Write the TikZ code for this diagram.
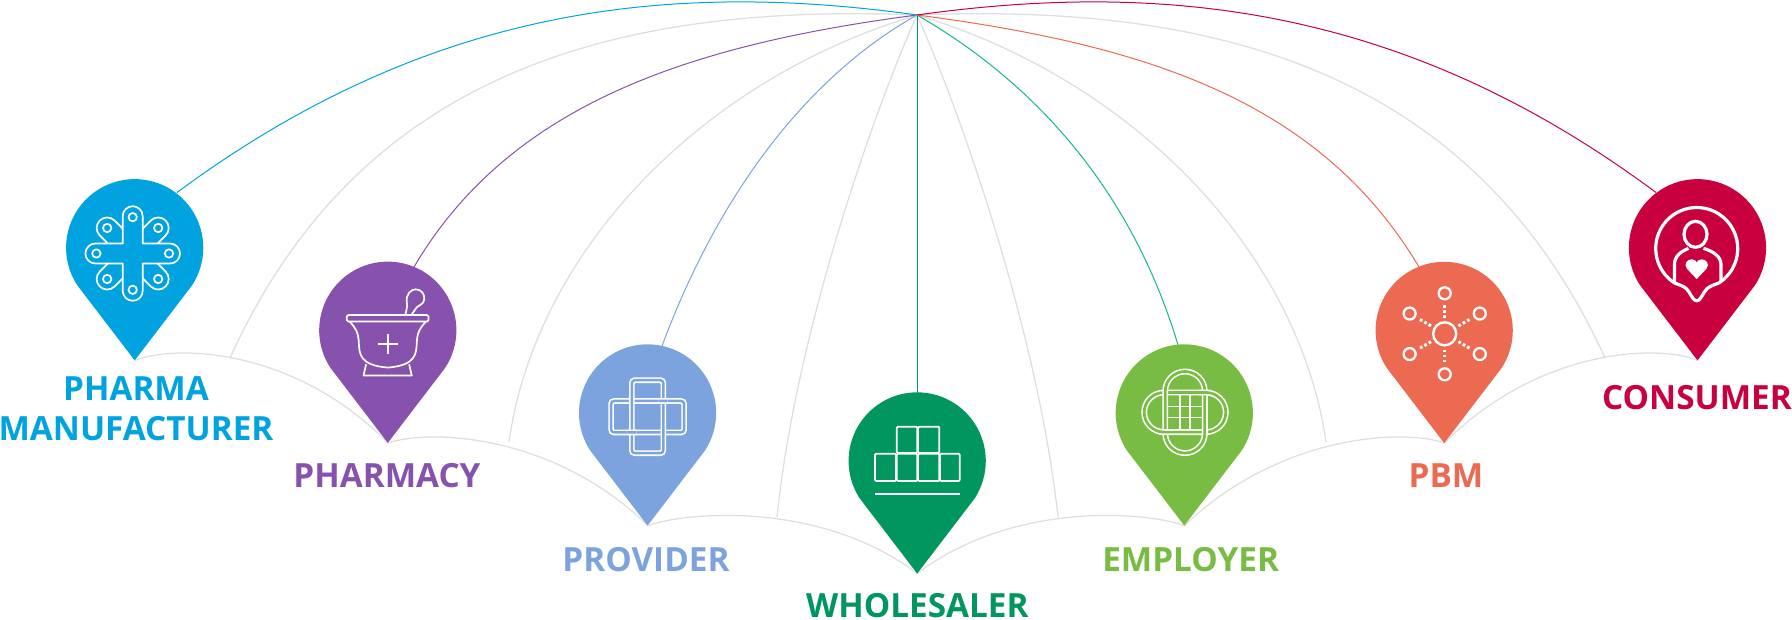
\documentclass[tikz,border=0pt]{standalone}
\usepackage{fontspec}
\setmainfont{Open Sans}
\definecolor{cPharma}{HTML}{00A3E0}
\definecolor{cPharmacy}{HTML}{8652AE}
\definecolor{cProvider}{HTML}{7CA3DD}
\definecolor{cWhole}{HTML}{00965E}
\definecolor{cEmployer}{HTML}{78BC43}
\definecolor{cPbm}{HTML}{EC6952}
\definecolor{cConsumer}{HTML}{C8003D}
\definecolor{cTeal}{HTML}{14B884}
\definecolor{cGrey}{HTML}{DFDFDF}
\tikzset{
  grey link/.style={draw=cGrey,line width=1.3pt},
  colour link/.style={line width=1pt},
  icon line/.style={draw=white,line width=1.7pt,line join=round},
  pinlabel/.style={inner sep=0pt,anchor=base,font=\fontsize{33.3}{33.3}\selectfont\bfseries},
  pinshape/.pic={
    \fill (0,112.6) -- (-57.4,37.5)
      arc[start angle=146.8,end angle=393.2,radius=68.6]
      -- cycle;
  },
  icon pharma/.pic={
    \begin{scope}[shift={(-2,5.7)}]
      \begin{scope}[rotate=45]
        \draw[icon line,rounded corners=10.5pt] (-46.6,-10.5) rectangle (46.6,10.5);
      \end{scope}
      \begin{scope}[rotate=-45]
        \draw[icon line,rounded corners=10.5pt] (-46.6,-10.5) rectangle (46.6,10.5);
      \end{scope}
      \draw[icon line,fill=cPharma] (-10,-37.3) arc[start angle=180,end angle=360,radius=10]
        -- (10,-10) -- (37.3,-10) arc[start angle=270,end angle=450,radius=10]
        -- (10,10) -- (10,37.3) arc[start angle=0,end angle=180,radius=10]
        -- (-10,10) -- (-37.3,10) arc[start angle=90,end angle=270,radius=10]
        -- (-10,-10) -- cycle;
      \foreach \p in {(0,-36.3),(0,36.3),(-36.3,0),(36.3,0),(-25.5,-25.5),(25.5,-25.5),(-25.5,25.5),(25.5,25.5)}
        \draw[icon line] \p circle[radius=4.2];
    \end{scope}
  },
  icon pharmacy/.pic={
    \draw[icon line,rounded corners=1.5pt] (-41,-15.3) rectangle (40.7,-8.7);
    \draw[icon line] (-38,-8.7) .. controls (-33,-3) and (-29.5,1) .. (-29,12)
      .. controls (-28.5,24) and (-28,35) .. (0,37.3)
      .. controls (28,35) and (28.5,24) .. (29,12)
      .. controls (29.5,1) and (33,-3) .. (38,-8.7);
    \draw[icon line] (-21.7,34) -- (-24.3,45.3) -- (24,45.3) -- (21.3,34);
    \draw[icon line] (-10,14) -- (10,14) (0,4) -- (0,24);
    \draw[icon line] (17.5,-15.3) .. controls (18.5,-20) and (20,-24) .. (19,-28)
      .. controls (18,-36) and (23,-41) .. (28,-41)
      .. controls (33.5,-41) and (37,-36) .. (36.5,-31)
      .. controls (36,-26) and (31,-25) .. (29,-23)
      .. controls (27,-21) and (26,-18) .. (23.5,-15.3);
  },
  icon provider/.pic={
    \begin{scope}[shift={(0,3.7)}]
      \tikzset{band/.style={white,line width=1.6pt,double=cProvider,double distance=2.5pt,rounded corners=3pt}}
      \draw[band] (-36.5,-15.75) rectangle (36.5,15.75);
      \draw[band] (-15.75,-36.5) rectangle (15.75,36.5);
      \begin{scope}
        \clip (11,-20) rectangle (20,-11) (-20,11) rectangle (-11,20);
        \draw[band] (-36.5,-15.75) rectangle (36.5,15.75);
      \end{scope}
    \end{scope}
  },
  icon whole/.pic={
    \foreach \a/\b/\c/\d in {-20.4/-34.3/0.1/-8.1, 0.9/-34.3/22.1/-8.1,
        -42.2/-7.3/-21.2/20, -20.4/-7.3/0.1/20, 0.9/-7.3/22.1/20, 22.9/-7.3/42.5/20}
      \draw[icon line,rounded corners=1pt] (\a,\b) rectangle (\c,\d);
    \draw[icon line] (-42.2,32.7) -- (42.5,32.7);
  },
  icon employer/.pic={
    \begin{scope}[shift={(0.7,-0.7)}]
      \tikzset{band/.style={white,line width=1.6pt,double=cEmployer,double distance=2.7pt,rounded corners=19.8pt}}
      \draw[white,line width=1.3pt] (-5,-17) -- (-5,17) (5,-17) -- (5,17) (-17,-5.5) -- (17,-5.5) (-17,5.5) -- (17,5.5);
      \draw[band] (-40.8,-19.8) rectangle (40.8,19.8);
      \draw[band] (-19.8,-40.8) rectangle (19.8,40.8);
      \begin{scope}
        \clip (14,-25) rectangle (26,-14) (-26,14) rectangle (-14,25);
        \draw[band] (-40.8,-19.8) rectangle (40.8,19.8);
      \end{scope}
    \end{scope}
  },
  icon pbm/.pic={
    \begin{scope}[shift={(0.5,3.3)}]
      \draw[white,line width=2.4pt] (0,0) circle[radius=11.5];
      \foreach \t in {30,90,150,210,270,330}{
        \draw[white,line width=2.3pt] (\t:40.5) circle[radius=6];
        \draw[white,line width=3pt,dash pattern=on 2.8pt off 2.2pt] (\t:15.8) -- (\t:29.5);
      }
    \end{scope}
  },
  icon consumer/.pic={
    \tikzset{thick icon/.style={draw=white,line width=3.2pt,line join=round}}
    \draw[thick icon] (-23.1,35.1) arc[start angle=123,end angle=417,radius=41]
      .. controls (14,38) and (10,39) .. (7,44)
      .. controls (4,49) and (2,53) .. (-0.8,53)
      .. controls (-3.6,53) and (-5.6,49) .. (-8.6,44)
      .. controls (-11.6,39) and (-15.6,38) .. (-23.1,35.1) -- cycle;
    \draw[thick icon] (-23.1,34) -- (-23.1,17) .. controls (-23.1,8) and (-16,3.5) .. (-9,0.5);
    \draw[thick icon] (23.5,34) -- (23.5,17) .. controls (23.5,8) and (15,3.5) .. (6,0.5);
    \draw[thick icon] (-2,-13.5) ellipse[x radius=11.5,y radius=13];
    \fill[white] (-0.8,31.3) -- (-10.5,21) .. controls (-14.5,16.5) and (-10,11) .. (-5.5,11.5)
      .. controls (-3,11.7) and (-1.5,13) .. (-0.8,14.5)
      .. controls (-0.1,13) and (1.4,11.7) .. (3.9,11.5)
      .. controls (8.4,11) and (12.9,16.5) .. (8.9,21) -- cycle;
  }
}
\begin{document}
\begin{tikzpicture}[x=1pt,y=-1pt]
\useasboundingbox (0,0) rectangle (1792,620);
% anchors
\coordinate (apex) at (917,15);
\coordinate (pinA) at (134.7,247.8);
\coordinate (pinB) at (387.8,330.3);
\coordinate (pinC) at (647.6,413);
\coordinate (pinD) at (917.2,461);
\coordinate (pinE) at (1184.3,413);
\coordinate (pinF) at (1444.2,330.5);
\coordinate (pinG) at (1697.5,247.8);
\coordinate (tipA) at (135,360.5);
\coordinate (tipB) at (388,443);
\coordinate (tipC) at (648,525.7);
\coordinate (tipD) at (917.2,573.5);
\coordinate (tipE) at (1184.3,525.7);
\coordinate (tipF) at (1444.3,443);
\coordinate (tipG) at (1697.5,360.5);
\coordinate (endA) at (177,192.5);
\coordinate (endB) at (414,267);
\coordinate (endC) at (662,346);
\coordinate (endD) at (917,393);
\coordinate (endE) at (1178,345);
\coordinate (endF) at (1419,267);
\coordinate (endG) at (1656,192.5);
\coordinate (arcAB) at (230,358);
\coordinate (arcBC) at (509,442);
\coordinate (arcCD) at (777,517);
\coordinate (arcDE) at (1058,517);
\coordinate (arcEF) at (1326,442);
\coordinate (arcFG) at (1605,358);
% grey ridges
\draw[grey link] (tipA) .. controls (175,344) and (295,348) .. (tipB);
\draw[grey link] (tipB) .. controls (428,429) and (553,433) .. (tipC);
\draw[grey link] (tipC) .. controls (685,512) and (820,500) .. (tipD);
\draw[grey link] (tipD) .. controls (1014,500) and (1149,512) .. (tipE);
\draw[grey link] (tipE) .. controls (1281,433) and (1406,429) .. (tipF);
\draw[grey link] (tipF) .. controls (1539,348) and (1659,344) .. (tipG);
\draw[grey link] (arcAB) .. controls (360,71) and (617,3) .. (apex);
\draw[grey link] (arcBC) .. controls (535,255) and (697,81) .. (apex);
\draw[grey link] (arcCD) .. controls (795,340) and (870,120) .. (apex);
\draw[grey link] (arcDE) .. controls (1039,340) and (964,120) .. (apex);
\draw[grey link] (arcEF) .. controls (1299,255) and (1137,81) .. (apex);
\draw[grey link] (arcFG) .. controls (1474,71) and (1217,3) .. (apex);
% coloured links
\draw[colour link,cPharma] (endA) .. controls (427,7.5) and (667,-20) .. (apex);
\draw[colour link,cPharmacy] (endB) .. controls (509,105.5) and (687,45) .. (apex);
\draw[colour link,cProvider] (endC) .. controls (720,190) and (810,75) .. (apex);
\draw[colour link,cWhole] (endD) -- (apex);
\draw[colour link,cTeal] (endE) .. controls (1130,185) and (1030,80) .. (apex);
\draw[colour link,cPbm] (endF) .. controls (1320,101) and (1147,45) .. (apex);
\draw[colour link,cConsumer] (endG) .. controls (1407,7.5) and (1167,-20) .. (apex);
% pins
\pic[fill=cPharma] at (pinA) {pinshape};
\pic[fill=cPharmacy] at (pinB) {pinshape};
\pic[fill=cProvider] at (pinC) {pinshape};
\pic[fill=cWhole] at (pinD) {pinshape};
\pic[fill=cEmployer] at (pinE) {pinshape};
\pic[fill=cPbm] at (pinF) {pinshape};
\pic[fill=cConsumer] at (pinG) {pinshape};
% icons
\pic at (pinA) {icon pharma};
\pic at (pinB) {icon pharmacy};
\pic at (pinC) {icon provider};
\pic at (pinD) {icon whole};
\pic at (pinE) {icon employer};
\pic at (pinF) {icon pbm};
\pic at (pinG) {icon consumer};
% labels
\node[pinlabel,text=cPharma] (labA) at (136,400) {PHARMA};
\node[pinlabel,text=cPharma] (labAb) at (136,440) {MANUFACTURER};
\node[pinlabel,text=cPharmacy] (labB) at (387,487.3) {PHARMACY};
\node[pinlabel,text=cProvider] (labC) at (646,571.7) {PROVIDER};
\node[pinlabel,text=cWhole] (labD) at (917.4,617.3) {WHOLESALER};
\node[pinlabel,text=cEmployer] (labE) at (1190.6,571.7) {EMPLOYER};
\node[pinlabel,text=cPbm] (labF) at (1446,487.3) {PBM};
\node[pinlabel,text=cConsumer] (labG) at (1697,409.5) {CONSUMER};
\end{tikzpicture}
\end{document}
